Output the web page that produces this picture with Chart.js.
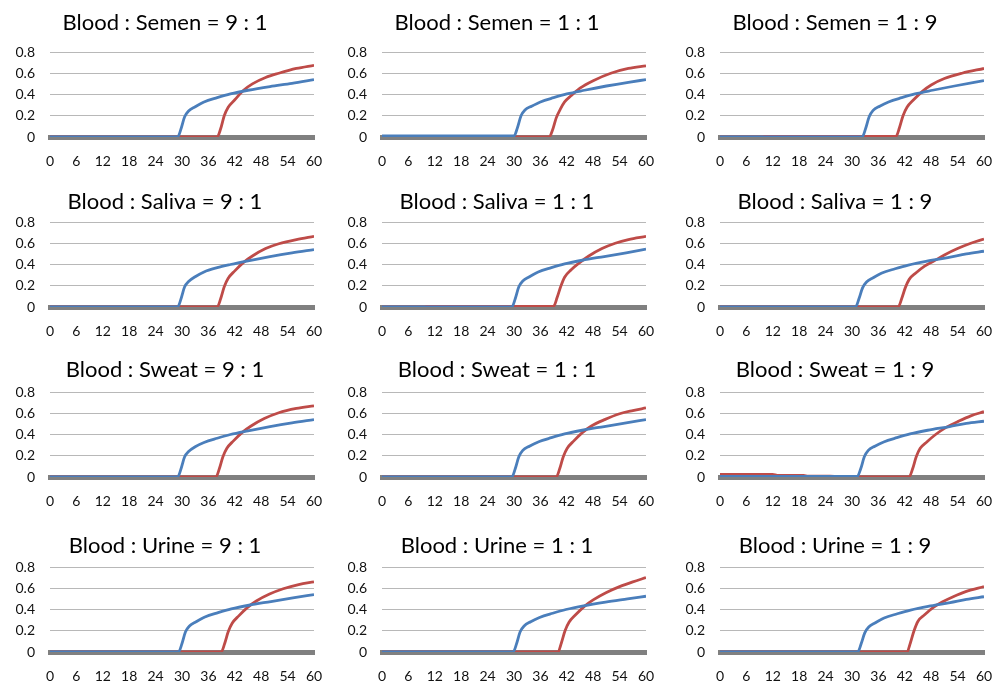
<!DOCTYPE html>
<html>
<head>
<meta charset="utf-8">
<script src="https://cdn.jsdelivr.net/npm/chart.js@4"></script>
<style>
  html, body { margin: 0; padding: 0; background: #fff; overflow: hidden; }
  body { width: 1003px; height: 681px; position: relative; }
  .panel { position: absolute; width: 344px; height: 180px; }
</style>
</head>
<body>
<div id="grid"></div>
<script>
document.addEventListener("DOMContentLoaded", function () {
  // Titles
  const samples = ["Semen", "Saliva", "Sweat", "Urine"];
  const ratios = ["9 : 1", "1 : 1", "1 : 9"];
  const xTicks = [0, 6, 12, 18, 24, 30, 36, 42, 48, 54, 60];
  const yTicks = [0, 0.2, 0.4, 0.6, 0.8];

  // [time, value], blue and red curve
  const semen91Blue = [[0,0],[29,0],[29.8,0.08],[30.6,0.19],[31.5,0.245],[33,0.285],[35,0.33],[38,0.37],[41,0.405],[45,0.44],[50,0.475],[55,0.505],[60,0.54]];
  const semen91Red = [[0,0],[38,0],[38.8,0.08],[39.6,0.2],[40.5,0.28],[42,0.35],[44,0.44],[46,0.5],[49,0.56],[52,0.6],[56,0.645],[60,0.675]];
  const semen11Blue = [[0,0.01],[30,0.01],[30.8,0.09],[31.6,0.2],[32.5,0.255],[34,0.29],[36,0.33],[39,0.37],[42,0.405],[46,0.44],[51,0.48],[56,0.515],[60,0.54]];
  const semen11Red = [[0,0],[38,0],[38.8,0.07],[39.6,0.18],[40.5,0.26],[41.5,0.33],[43,0.39],[45,0.46],[48,0.53],[52,0.6],[56,0.645],[60,0.67]];
  const semen19Blue = [[0,0],[32.3,0],[33.1,0.08],[33.9,0.19],[34.8,0.25],[36.3,0.29],[38.3,0.33],[41.3,0.37],[44.3,0.405],[48.3,0.44],[53.3,0.48],[60,0.53]];
  const semen19Red = [[0,0],[9.5,0],[10,0.006],[40,0.006],[40.8,0.09],[41.6,0.2],[42.5,0.28],[44,0.35],[46,0.43],[48,0.49],[51,0.55],[55,0.6],[60,0.645]];

  const saliva91Blue = [[0,0],[29,0],[29.8,0.08],[30.6,0.19],[31.5,0.24],[33,0.285],[35,0.33],[38,0.37],[41,0.4],[45,0.435],[50,0.475],[55,0.51],[60,0.54]];
  const saliva91Red = [[0,0],[38,0],[38.8,0.08],[39.6,0.19],[40.5,0.27],[42,0.34],[44,0.42],[46,0.48],[49,0.55],[52,0.595],[56,0.635],[60,0.665]];
  const saliva11Blue = [[0,0],[29.5,0],[30.3,0.08],[31.1,0.19],[32,0.245],[33.5,0.285],[35.5,0.33],[38.5,0.37],[41.5,0.405],[45.5,0.44],[50.5,0.475],[55.5,0.51],[60,0.545]];
  const saliva11Red = [[0,0],[9.5,0],[10,0.006],[39,0.006],[39.8,0.09],[40.6,0.19],[41.5,0.28],[43,0.35],[45,0.42],[47,0.48],[50,0.55],[53,0.6],[56,0.635],[60,0.665]];
  const saliva19Blue = [[0,0],[30.8,0],[31.6,0.08],[32.4,0.18],[33.3,0.235],[34.8,0.275],[36.8,0.32],[39.8,0.36],[42.8,0.395],[46.8,0.43],[51.8,0.465],[56,0.5],[60,0.525]];
  const saliva19Red = [[0,0],[40.5,0],[41.3,0.08],[42.1,0.18],[43,0.26],[44.5,0.32],[46.5,0.385],[48.5,0.43],[51,0.49],[54,0.55],[57,0.6],[60,0.64]];

  const sweat91Blue = [[0,0],[29,0],[29.8,0.08],[30.6,0.19],[31.5,0.24],[33,0.285],[35,0.325],[38,0.365],[41,0.4],[45,0.435],[50,0.475],[55,0.51],[60,0.54]];
  const sweat91Red = [[0,0],[37.7,0],[38.5,0.08],[39.3,0.19],[40.2,0.27],[41.7,0.34],[43.7,0.42],[45.7,0.48],[48.7,0.55],[52,0.605],[56,0.645],[60,0.67]];
  const sweat11Blue = [[0,0],[29.5,0],[30.3,0.08],[31.1,0.19],[32,0.25],[33.5,0.29],[35.5,0.33],[38.5,0.37],[41.5,0.405],[45.5,0.44],[50.5,0.475],[55.5,0.51],[60,0.54]];
  const sweat11Red = [[0,0],[39.6,0],[40.4,0.08],[41.2,0.19],[42.1,0.27],[43.6,0.34],[45.6,0.42],[47.6,0.48],[50.6,0.54],[54,0.595],[57,0.625],[60,0.65]];
  const sweat19Blue = [[0,0.005],[31.2,0.005],[32,0.08],[32.8,0.19],[33.7,0.25],[35.2,0.29],[37.2,0.33],[40.2,0.37],[43.2,0.405],[47.2,0.44],[52.2,0.475],[56,0.505],[60,0.525]];
  const sweat19Red = [[0,0.025],[12,0.025],[13,0.015],[19,0.015],[20,0.008],[25,0.008],[27,0.002],[43,0.002],[43.8,0.08],[44.6,0.19],[45.5,0.27],[47,0.33],[49,0.4],[51.3,0.465],[54,0.52],[57,0.575],[60,0.615]];

  const urine91Blue = [[0,0],[29.2,0],[30,0.08],[30.8,0.19],[31.7,0.245],[33.2,0.285],[35.2,0.33],[38.2,0.37],[41.2,0.405],[45.2,0.44],[50.2,0.475],[55.2,0.51],[60,0.54]];
  const urine91Red = [[0,0],[38.9,0],[39.7,0.08],[40.5,0.19],[41.4,0.27],[42.9,0.34],[44.9,0.42],[46.9,0.48],[49.9,0.545],[53,0.595],[56.5,0.635],[60,0.66]];
  const urine11Blue = [[0,0],[29.8,0],[30.6,0.08],[31.4,0.19],[32.3,0.245],[33.8,0.285],[35.8,0.325],[38.8,0.365],[41.8,0.4],[45.8,0.435],[50.8,0.47],[55.8,0.5],[60,0.525]];
  const urine11Red = [[0,0],[40,0],[40.8,0.09],[41.6,0.2],[42.5,0.28],[44,0.35],[46,0.43],[48,0.49],[51,0.56],[54,0.615],[57,0.66],[60,0.7]];
  const urine19Blue = [[0,0],[31.3,0],[32.1,0.08],[32.9,0.18],[33.8,0.235],[35.3,0.275],[37.3,0.32],[40.3,0.36],[43.3,0.395],[47.3,0.43],[52.3,0.465],[56,0.495],[60,0.52]];
  const urine19Red = [[0,0],[42.5,0],[43.3,0.09],[44.1,0.2],[45,0.29],[46.5,0.35],[48.5,0.42],[50.5,0.47],[53,0.52],[56,0.57],[60,0.615]];

  const panels = [
    [semen91Blue, semen91Red], [semen11Blue, semen11Red], [semen19Blue, semen19Red],
    [saliva91Blue, saliva91Red], [saliva11Blue, saliva11Red], [saliva19Blue, saliva19Red],
    [sweat91Blue, sweat91Red], [sweat11Blue, sweat11Red], [sweat19Blue, sweat19Red],
    [urine91Blue, urine91Red], [urine11Blue, urine11Red], [urine19Blue, urine19Red],
  ];

  // layout of the 4x3 grid
  const colLeft = [0, 332, 670];
  const rowTop = [0, 170, 340, 515];
  const titlePad = [[10, 15.6], [18.8, 6.8], [16.8, 8.8], [17.8, 7.8]];

  const grid = document.getElementById("grid");
  const font = "Lato, 'Open Sans', sans-serif";

  panels.forEach(function (pair, i) {
    const r = Math.floor(i / 3);
    const c = i % 3;
    const div = document.createElement("div");
    div.className = "panel";
    div.style.left = colLeft[c] + "px";
    div.style.top = rowTop[r] + "px";
    const canvas = document.createElement("canvas");
    canvas.width = 344;
    canvas.height = 180;
    div.appendChild(canvas);
    grid.appendChild(div);

    const toPts = (arr) => arr.map((p) => ({ x: p[0], y: p[1] }));

    new Chart(canvas.getContext("2d"), {
      type: "line",
      data: {
        datasets: [
          {
            data: toPts(pair[0]),
            borderColor: "#4a7ebb",
            borderWidth: 2.8,
            pointRadius: 0,
            cubicInterpolationMode: "monotone",
          },
          {
            data: toPts(pair[1]),
            borderColor: "#be4b48",
            borderWidth: 2.8,
            pointRadius: 0,
            cubicInterpolationMode: "monotone",
          },
        ],
      },
      options: {
        responsive: false,
        animation: false,
        events: [],
        layout: { padding: { left: 16, right: 30, top: 0, bottom: 3 } },
        plugins: {
          legend: { display: false },
          tooltip: { enabled: false },
          title: {
            display: true,
            text: "Blood : " + samples[r] + " = " + ratios[c],
            color: "#000",
            font: { family: font, size: 22, weight: "normal", lineHeight: 1.2 },
            padding: { top: titlePad[r][0], bottom: titlePad[r][1] },
          },
        },
        scales: {
          x: {
            type: "linear",
            min: 0,
            max: 60,
            afterFit: function (scale) { scale.height = 40; },
            afterBuildTicks: function (scale) {
              scale.ticks = xTicks.map((v) => ({ value: v }));
            },
            grid: { display: false, drawTicks: false },
            border: { display: true, color: "#808080", width: 5 },
            ticks: {
              color: "#111",
              padding: 16,
              maxRotation: 0,
              autoSkip: false,
              font: { family: font, size: 14 },
            },
          },
          y: {
            min: 0,
            max: 0.8,
            afterFit: function (scale) { scale.width = 34; },
            afterBuildTicks: function (scale) {
              scale.ticks = yTicks.map((v) => ({ value: v }));
            },
            grid: { color: "#b8b8b8", lineWidth: 1, drawTicks: false },
            border: { display: false },
            ticks: {
              color: "#111",
              padding: 15,
              autoSkip: false,
              font: { family: font, size: 14 },
              callback: function (value) {
                return String(Number(value.toFixed(1)));
              },
            },
          },
        },
      },
    });
  });
});
</script>
</body>
</html>
